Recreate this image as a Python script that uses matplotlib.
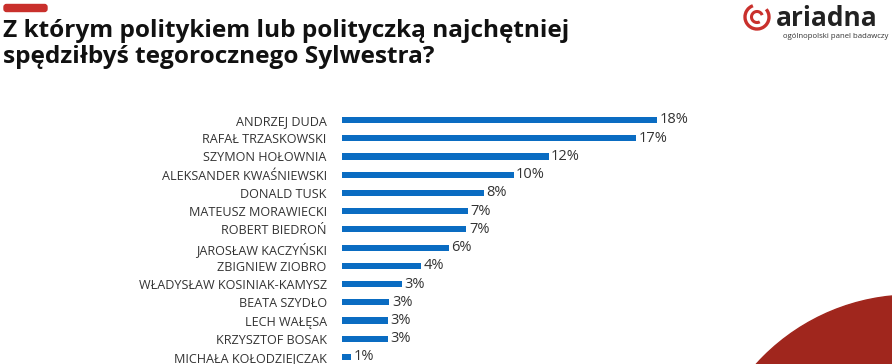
import matplotlib.pyplot as plt
from matplotlib.patches import Circle, FancyBboxPatch, Arc

names = [
    "ANDRZEJ DUDA", "RAFAŁ TRZASKOWSKI", "SZYMON HOŁOWNIA",
    "ALEKSANDER KWAŚNIEWSKI", "DONALD TUSK", "MATEUSZ MORAWIECKI",
    "ROBERT BIEDROŃ", "JAROSŁAW KACZYŃSKI", "ZBIGNIEW ZIOBRO",
    "WŁADYSŁAW KOSINIAK-KAMYSZ", "BEATA SZYDŁO", "LECH WAŁĘSA",
    "KRZYSZTOF BOSAK", "MICHAŁA KOŁODZIEJCZAK",
]
values = [18.0, 16.8, 11.8, 9.8, 8.1, 7.2, 7.1, 6.1, 4.5, 3.4, 2.7, 2.6, 2.6, 0.5]
labels = ["18%", "17%", "12%", "10%", "8%", "7%", "7%", "6%", "4%", "3%", "3%",
          "3%", "3%", "1%"]

title = "Z którym politykiem lub polityczką najchętniej\nspędziłbyś tegorocznego Sylwestra?"

W, H = 892, 364
BLUE = "#0a6cc2"
RED = "#c9302c"
DARK_RED = "#a0261d"
TEXT = "#333333"

plt.rcParams['font.family'] = ['Open Sans', 'DejaVu Sans']

fig = plt.figure(figsize=(W / 100, H / 100), dpi=100)

# background layer in pixel coordinates
bg = fig.add_axes([0, 0, 1, 1])
bg.set_xlim(0, W)
bg.set_ylim(H, 0)
bg.axis("off")

bg.add_patch(Circle((912, 505), 210, color=DARK_RED, zorder=0))
bg.add_patch(FancyBboxPatch((4, 4.5), 43, 7, boxstyle="round,pad=0,rounding_size=2.5",
                            color=RED, zorder=1))
bg.text(3, 19, title, fontsize=17.6, fontweight="bold", color="#111111",
        va="top", ha="left", linespacing=1.1)

# logo
bg.add_patch(Arc((757, 17), 24, 24, theta1=-40, theta2=250, lw=2.4, color=RED))
bg.add_patch(Arc((757, 17), 11, 11, theta1=60, theta2=340, lw=2.2, color=RED))
bg.text(776, 18, "ariadna", fontsize=19, fontweight="bold", color="#222222",
        va="center", ha="left")
bg.text(888, 36, "ogólnopolski panel badawczy", fontsize=5.6, color="#333333",
        va="center", ha="right")

# bar chart
x0 = 342 / W
scale = 17.5  # px per percent
ax = fig.add_axes([x0, 0, 1 - x0, 1])
ax.patch.set_alpha(0)
ypos = list(range(len(names)))
ax.barh(ypos, values, height=0.34, color=BLUE)
row = 18.23
ax.set_ylim((H - 120) / row, -120 / row)
ax.set_xlim(0, (W - 342) / scale)
ax.set_yticks(ypos)
ax.set_yticklabels(names, fontsize=9.1, color=TEXT)
ax.tick_params(axis="y", length=0, pad=11)
ax.set_xticks([])
for s in ax.spines.values():
    s.set_visible(False)
for y, v, lab in zip(ypos, values, labels):
    ax.text(v + 0.15, y, lab, fontsize=10.5, color=TEXT, va="center", ha="left")

fig.savefig("out.png", dpi=100)
